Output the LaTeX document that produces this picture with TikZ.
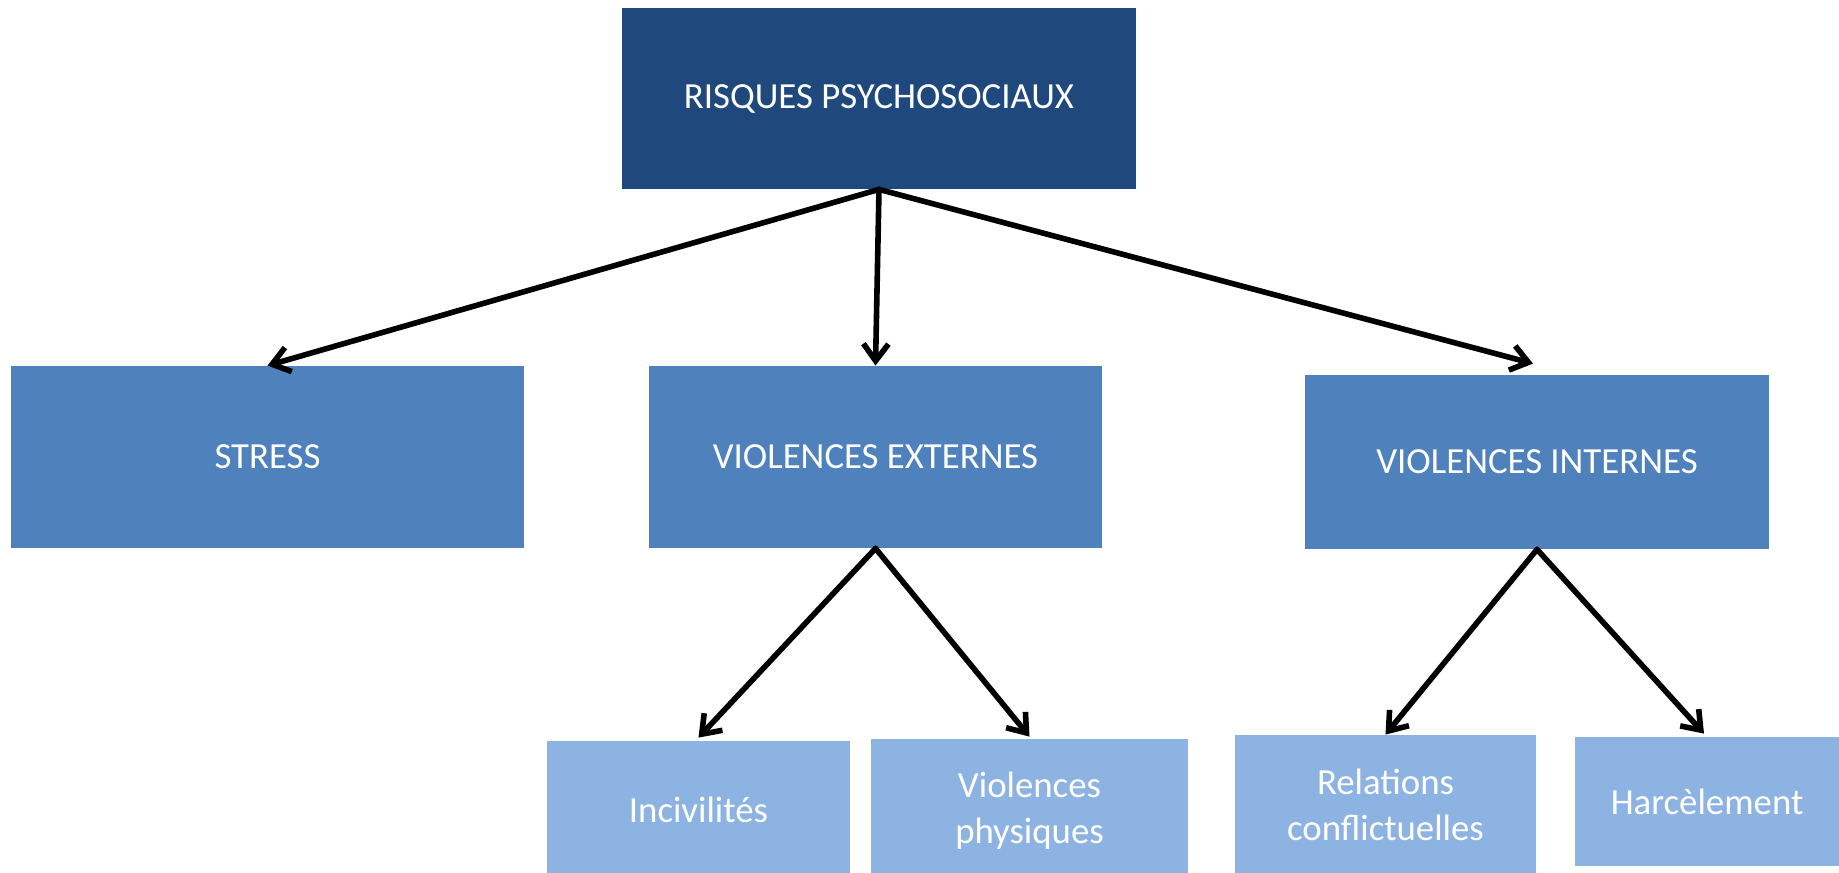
\documentclass[tikz,border=0pt]{standalone}
\usepackage{fontspec}
\setmainfont{Carlito}
\usetikzlibrary{arrows.meta,calc}
\definecolor{topblue}{HTML}{1F497D}
\definecolor{midblue}{HTML}{4F81BD}
\definecolor{lowblue}{HTML}{8DB3E2}
\tikzset{
  box/.style={fill=#1, draw=none, inner sep=0pt, align=center, text=white,
    font=\fontsize{18.4}{23}\selectfont},
  link/.style={line width=2.8pt, line cap=round, line join=round,
    -{Straight Barb[length=8.5pt,width=12.5pt,line width=2.8pt]}},
}
\begin{document}
\begin{tikzpicture}[x=0.5pt,y=-0.5pt]
\useasboundingbox (0,0) rectangle (1839,872);
% top level
\node[box=topblue, minimum width=257pt, minimum height=90.5pt] (rps) at (879,98.5) {RISQUES PSYCHOSOCIAUX};
% second level
\node[box=midblue, minimum width=256.5pt, minimum height=91pt] (stress) at (267.5,457) {STRESS};
\node[box=midblue, minimum width=226.5pt, minimum height=91pt] (ext) at (875.5,457) {VIOLENCES EXTERNES};
\node[box=midblue, minimum width=232pt, minimum height=87pt] (int) at (1537,462) {VIOLENCES INTERNES};
% third level
\node[box=lowblue, minimum width=151.5pt, minimum height=69pt] (inc) at (698.5,810) {Incivilités};
\node[box=lowblue, minimum width=158.5pt, minimum height=72pt] (phy) at (1029.5,811) {Violences\\physiques};
\node[box=lowblue, minimum width=150.5pt, minimum height=70pt] (rel) at (1385.5,805) {Relations\\conflictuelles};
\node[box=lowblue, minimum width=132pt, minimum height=64.5pt] (har) at (1707,801.5) {Harcèlement};
% arrow ends
\coordinate (inttip) at ($(int.north)+(-4,-11)$);
% connectors
\draw[link] (rps.south) -- (stress.north);
\draw[link] (rps.south) -- (ext.north);
\draw[link] (rps.south) -- (inttip);
\draw[link] (ext.south) -- ($(inc.north)+(0,-3)$);
\draw[link] (ext.south) -- ($(phy.north)+(0,-2)$);
\draw[link] (int.south) -- (rel.north);
\draw[link] (int.south) -- ($(har.north)+(-3,-3)$);
\end{tikzpicture}
\end{document}
